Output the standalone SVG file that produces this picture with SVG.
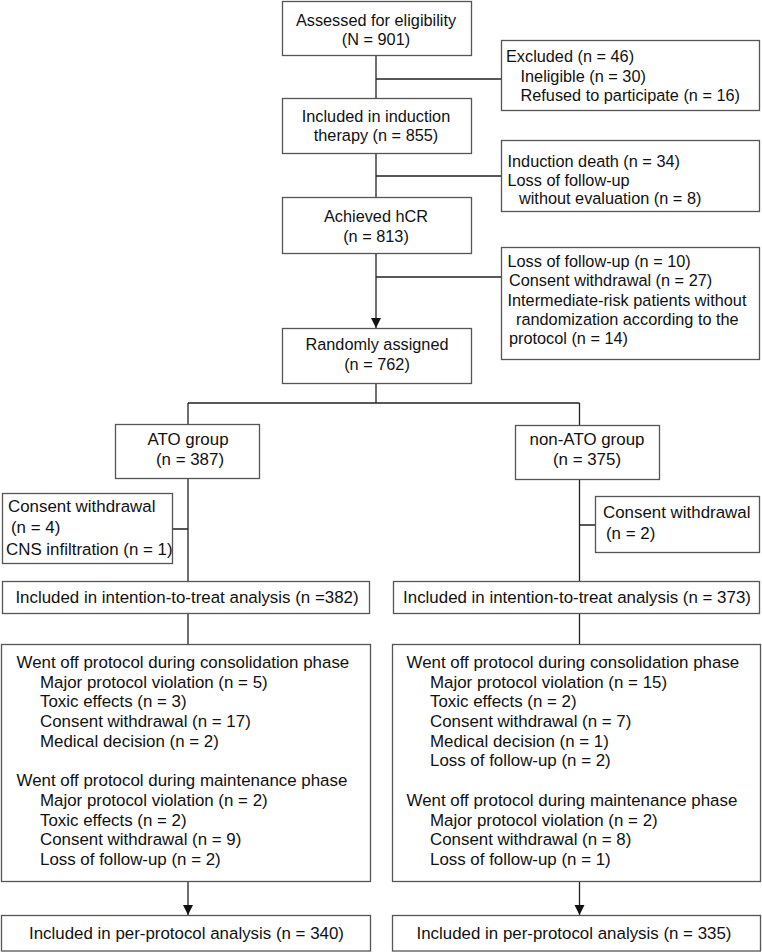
<svg xmlns="http://www.w3.org/2000/svg" width="762" height="952" viewBox="0 0 762 952">
<style>
.box{fill:#fff;stroke:#555;stroke-width:1.3}
.ln{fill:none;stroke:#222;stroke-width:1.3}
text{font-family:"Liberation Sans",Arial,Helvetica,sans-serif;fill:#111}
.t{font-size:16.3px}
.b{font-size:16.9px}
.c{text-anchor:middle}
</style>
<defs>
<marker id="arr" markerUnits="userSpaceOnUse" markerWidth="10" markerHeight="12" refX="10" refY="5" orient="auto">
<path d="M0,0 L10,5 L0,10 Z" fill="#111"/>
</marker>
</defs>
<rect width="762" height="952" fill="#fff"/>
<g id="connectors">
<path class="ln" d="M376,55 V98 M376,79 H501.5"/>
<path class="ln" d="M376,153.5 V197.5 M376,176 H501.5"/>
<path class="ln" d="M376,253.5 V328" marker-end="url(#arr)"/>
<path class="ln" d="M376,277 H501.5"/>
<path class="ln" d="M376,383.5 V403 M188,403 H579.5 M188,403 V424.5 M579.5,403 V425.5"/>
<path class="ln" d="M188,478.5 V581.5 M172.5,529 H188"/>
<path class="ln" d="M579.5,479.5 V581.5 M579.5,525 H595.5"/>
<path class="ln" d="M188,613.5 V644.5 M579.5,613.5 V644.5"/>
<path class="ln" d="M188,881.5 V915" marker-end="url(#arr)"/>
<path class="ln" d="M579.5,881.5 V915" marker-end="url(#arr)"/>
</g>
<g id="assessed">
<rect class="box" x="282.5" y="1.5" width="189" height="54"/>
<text class="t c" x="376" y="26">Assessed for eligibility</text>
<text class="t c" x="376" y="45">(N = 901)</text>
</g>
<g id="excluded">
<rect class="box" x="501.5" y="40.5" width="258" height="70"/>
<text class="t" x="506" y="62">Excluded (n = 46)</text>
<text class="t" x="520.5" y="82">Ineligible (n = 30)</text>
<text class="t" x="520.5" y="101">Refused to participate (n = 16)</text>
</g>
<g id="induction">
<rect class="box" x="282.5" y="98.5" width="189" height="55"/>
<text class="t c" x="376" y="122">Included in induction</text>
<text class="t c" x="376" y="141">therapy (n = 855)</text>
</g>
<g id="induction-loss">
<rect class="box" x="501.5" y="140.5" width="258" height="71"/>
<text class="t" x="507.5" y="167">Induction death (n = 34)</text>
<text class="t" x="507.5" y="186">Loss of follow-up</text>
<text class="t" x="519" y="204">without evaluation (n = 8)</text>
</g>
<g id="hcr">
<rect class="box" x="282.5" y="197.5" width="189" height="56"/>
<text class="t c" x="376" y="222">Achieved hCR</text>
<text class="t c" x="376" y="242">(n = 813)</text>
</g>
<g id="hcr-loss">
<rect class="box" x="501.5" y="247.5" width="258" height="112"/>
<text class="t" x="507.5" y="267">Loss of follow-up (n = 10)</text>
<text class="t" x="509" y="286">Consent withdrawal (n = 27)</text>
<text class="t" x="507.5" y="306">Intermediate-risk patients without</text>
<text class="t" x="516" y="325">randomization according to the</text>
<text class="t" x="509" y="344">protocol (n = 14)</text>
</g>
<g id="random">
<rect class="box" x="282.5" y="328.5" width="189" height="55"/>
<text class="t c" x="377" y="350">Randomly assigned</text>
<text class="t c" x="377" y="370">(n = 762)</text>
</g>
<g id="ato">
<rect class="box" x="115.5" y="424.5" width="144" height="54"/>
<text class="b c" x="188" y="445">ATO group</text>
<text class="b c" x="190" y="465">(n = 387)</text>
</g>
<g id="nonato">
<rect class="box" x="515.5" y="425.5" width="144" height="54"/>
<text class="b c" x="587" y="445">non-ATO group</text>
<text class="b c" x="587" y="465">(n = 375)</text>
</g>
<g id="ato-excl">
<rect class="box" x="2.5" y="493.5" width="170" height="70"/>
<text class="b" x="8" y="512">Consent withdrawal</text>
<text class="b" x="11" y="533">(n = 4)</text>
<text class="b" x="6" y="555">CNS infiltration (n = 1)</text>
</g>
<g id="nonato-excl">
<rect class="box" x="595.5" y="496.5" width="164" height="56"/>
<text class="b" x="603" y="518">Consent withdrawal</text>
<text class="b" x="606" y="539">(n = 2)</text>
</g>
<g id="itt-ato">
<rect class="box" x="2.5" y="581.5" width="367" height="32"/>
<text class="b c" x="187" y="603">Included in intention-to-treat analysis (n =382)</text>
</g>
<g id="itt-nonato">
<rect class="box" x="393.5" y="581.5" width="366" height="32"/>
<text class="b c" x="577" y="603">Included in intention-to-treat analysis (n = 373)</text>
</g>
<g id="off-ato">
<rect class="box" x="1.5" y="644.5" width="369" height="237"/>
<text class="b" x="16.5" y="668">Went off protocol during consolidation phase</text>
<text class="b" x="40" y="688">Major protocol violation (n = 5)</text>
<text class="b" x="40" y="707">Toxic effects (n = 3)</text>
<text class="b" x="40" y="727">Consent withdrawal (n = 17)</text>
<text class="b" x="40" y="747">Medical decision (n = 2)</text>
<text class="b" x="16.5" y="786">Went off protocol during maintenance phase</text>
<text class="b" x="40" y="806">Major protocol violation (n = 2)</text>
<text class="b" x="40" y="826">Toxic effects (n = 2)</text>
<text class="b" x="40" y="845">Consent withdrawal (n = 9)</text>
<text class="b" x="40" y="865">Loss of follow-up (n = 2)</text>
</g>
<g id="off-nonato">
<rect class="box" x="392.5" y="644.5" width="368" height="237"/>
<text class="b" x="406.5" y="668">Went off protocol during consolidation phase</text>
<text class="b" x="430" y="688">Major protocol violation (n = 15)</text>
<text class="b" x="430" y="707">Toxic effects (n = 2)</text>
<text class="b" x="430" y="727">Consent withdrawal (n = 7)</text>
<text class="b" x="430" y="747">Medical decision (n = 1)</text>
<text class="b" x="430" y="766">Loss of follow-up (n = 2)</text>
<text class="b" x="406.5" y="806">Went off protocol during maintenance phase</text>
<text class="b" x="430" y="826">Major protocol violation (n = 2)</text>
<text class="b" x="430" y="845">Consent withdrawal (n = 8)</text>
<text class="b" x="430" y="865">Loss of follow-up (n = 1)</text>
</g>
<g id="pp-ato">
<rect class="box" x="1.5" y="915.5" width="369" height="35.5"/>
<text class="b c" x="186.5" y="939">Included in per-protocol analysis (n = 340)</text>
</g>
<g id="pp-nonato">
<rect class="box" x="392.5" y="915.5" width="368" height="35.5"/>
<text class="b c" x="574" y="939">Included in per-protocol analysis (n = 335)</text>
</g>
</svg>
